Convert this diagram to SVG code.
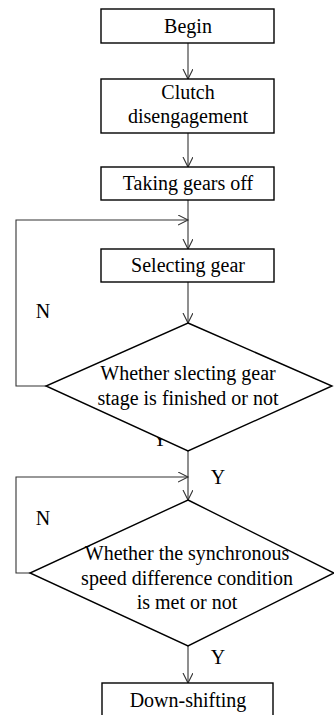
<svg xmlns="http://www.w3.org/2000/svg" width="334" height="715" viewBox="0 0 334 715">
<style>
.box{fill:#fff;stroke:#000;stroke-width:1.4}
.dia{fill:#fff;stroke:#000;stroke-width:1.4}
.ln{fill:none;stroke:#333;stroke-width:1.1}
text{font-family:"Liberation Serif","Times New Roman",serif;font-size:20px;fill:#000}
.c{text-anchor:middle}
</style>
<defs>
<marker id="arr" markerUnits="userSpaceOnUse" markerWidth="12" markerHeight="12" refX="10" refY="5" orient="auto" viewBox="0 0 12 12">
<path d="M0,0 L10,5 L0,10" fill="none" stroke="#333" stroke-width="1.1"/>
</marker>
</defs>
<rect width="334" height="715" fill="#fff"/>
<text id="label-y-hidden" x="160" y="446" class="c">Y</text>
<g id="connectors">
<line class="ln" x1="188" y1="43" x2="188" y2="79" marker-end="url(#arr)"/>
<line class="ln" x1="188" y1="133" x2="188" y2="167" marker-end="url(#arr)"/>
<line class="ln" x1="188" y1="200" x2="188" y2="249" marker-end="url(#arr)"/>
<polyline class="ln" points="46,386 16,386 16,220 188,220" marker-end="url(#arr)"/>
<line class="ln" x1="188" y1="282" x2="188" y2="323" marker-end="url(#arr)"/>
<line class="ln" x1="188" y1="451" x2="188" y2="500" marker-end="url(#arr)"/>
<polyline class="ln" points="30,573 16,573 16,477 188,477" marker-end="url(#arr)"/>
<line class="ln" x1="188" y1="646" x2="188" y2="683" marker-end="url(#arr)"/>
</g>
<g id="begin">
<rect class="box" x="101" y="9" width="173" height="34"/>
<text x="188" y="33" class="c">Begin</text>
</g>
<g id="clutch">
<rect class="box" x="101" y="79" width="173" height="54"/>
<text x="188" y="99" class="c">Clutch</text>
<text x="188" y="123" class="c">disengagement</text>
</g>
<g id="taking">
<rect class="box" x="101" y="167" width="173" height="33"/>
<text x="188" y="190" class="c">Taking gears off</text>
</g>
<g id="selecting">
<rect class="box" x="101" y="249" width="173" height="33"/>
<text x="188" y="272" class="c">Selecting gear</text>
</g>
<g id="decision1">
<polygon class="dia" points="188,323 332,386 188,451 46,386"/>
<text x="188" y="380" class="c">Whether slecting gear</text>
<text x="188" y="405" class="c">stage is finished or not</text>
</g>
<g id="decision2">
<polygon class="dia" points="188,500 334,573 188,646 30,573"/>
<text x="187" y="560" class="c">Whether the synchronous</text>
<text x="187" y="585" class="c">speed difference condition</text>
<text x="187" y="609" class="c">is met or not</text>
</g>
<g id="downshift">
<rect class="box" x="102" y="683" width="171" height="40"/>
<text x="188" y="707" class="c">Down-shifting</text>
</g>
<g id="labels">
<text x="43" y="318" class="c">N</text>
<text x="43" y="525" class="c">N</text>
<text x="218" y="484" class="c">Y</text>
<text x="218" y="664" class="c">Y</text>
</g>
</svg>
